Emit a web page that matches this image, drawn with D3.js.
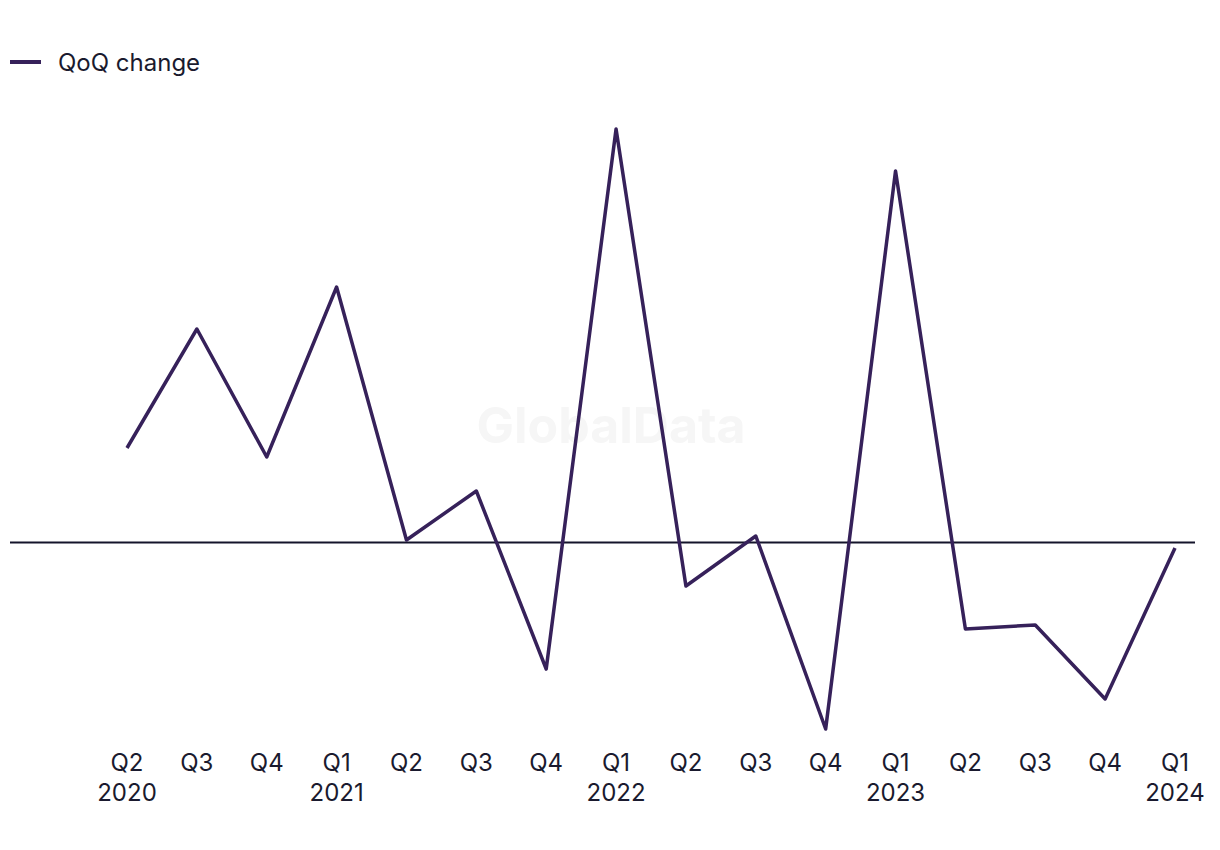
<!DOCTYPE html>
<html><head><meta charset="utf-8">
<script src="https://cdn.jsdelivr.net/npm/d3@7"></script>
<style>body{margin:0;background:#fff;}svg{display:block;font-family:Inter, "Noto Sans", sans-serif;}</style>
</head><body>
<svg id="c" width="1220" height="850"></svg>
<script>
const quarters = ["Q2","Q3","Q4","Q1","Q2","Q3","Q4","Q1","Q2","Q3","Q4","Q1","Q2","Q3","Q4","Q1"];
const years = ["2020","","","2021","","","","2022","","","","2023","","","","2024"];
const qoqChange = [4.7,10.65,4.25,12.75,0.1,2.55,-6.35,20.65,-2.2,0.3,-9.35,18.55,-4.35,-4.15,-7.85,-0.3];
const seriesName = "QoQ change";

const svg = d3.select("#c");
const color = "#36215a";
const idx = d3.range(quarters.length);
const x = d3.scalePoint().domain(idx).range([127,1175]);
const y = d3.scaleLinear().domain([-10,21]).range([742,122]);

// watermark
svg.append("text").attr("x",611).attr("y",443).attr("text-anchor","middle")
  .attr("font-size",50).attr("font-weight",700).attr("fill","#f6f6f6").text("GlobalData");

// zero line
svg.append("line").attr("x1",10).attr("x2",1195).attr("y1",y(0)+0.5).attr("y2",y(0)+0.5)
  .attr("stroke","#14142b").attr("stroke-width",2);

// line
svg.append("path").datum(qoqChange)
  .attr("fill","none").attr("stroke",color).attr("stroke-width",3.5).attr("stroke-linejoin","round")
  .attr("d",d3.line().x((d,i)=>x(i)).y(d=>y(d)));

// x labels
const g = svg.append("g").attr("fill","#1a1a2e").attr("font-size",24).attr("text-anchor","middle");
idx.forEach(i=>{
  g.append("text").attr("x",x(i)).attr("y",771).text(quarters[i]);
  if(years[i]) g.append("text").attr("x",x(i)).attr("y",801).text(years[i]);
});

// legend
svg.append("line").attr("x1",10).attr("x2",41).attr("y1",62).attr("y2",62)
  .attr("stroke",color).attr("stroke-width",4);
svg.append("text").attr("x",58).attr("y",71).attr("font-size",24).attr("fill","#1a1a2e").text(seriesName);
</script>
</body></html>
